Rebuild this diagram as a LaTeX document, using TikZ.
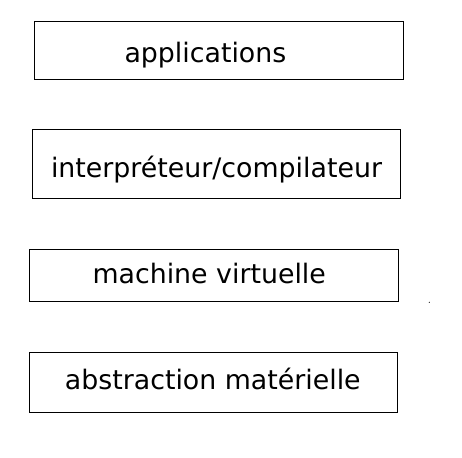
\documentclass[tikz,border=0pt]{standalone}
\usepackage{fontspec}
\setmainfont{DejaVu Sans}
\begin{document}
\begin{tikzpicture}[x=1pt,y=-1pt,
  layer/.style={draw=black,line width=0.9pt,rectangle,inner sep=0pt,anchor=north west},
  lbl/.style={inner sep=0pt,anchor=base,font=\fontsize{26.8}{30}\selectfont,text=black}]
\useasboundingbox (0,0) rectangle (462,457);
\node[layer,minimum width=369pt,minimum height=58.5pt] (b1) at (33.5,20.7) {};
\node[layer,minimum width=368.5pt,minimum height=68.7pt] (b2) at (31.8,129.3) {};
\node[layer,minimum width=368.3pt,minimum height=52.3pt] (b3) at (29.4,248.7) {};
\node[layer,minimum width=367.3pt,minimum height=60.6pt] (b4) at (29.4,351.7) {};
\node[lbl] (t1) at (205.4,62.7) {applications};
\node[lbl] (t2) at (216.5,177.3) {interpréteur/compilateur};
\node[lbl] (t3) at (209.2,283.3) {machine virtuelle};
\node[lbl] (t4) at (212.8,389) {abstraction matérielle};
\fill[black] (429.3,302.3) circle (0.6pt);
\end{tikzpicture}
\end{document}
